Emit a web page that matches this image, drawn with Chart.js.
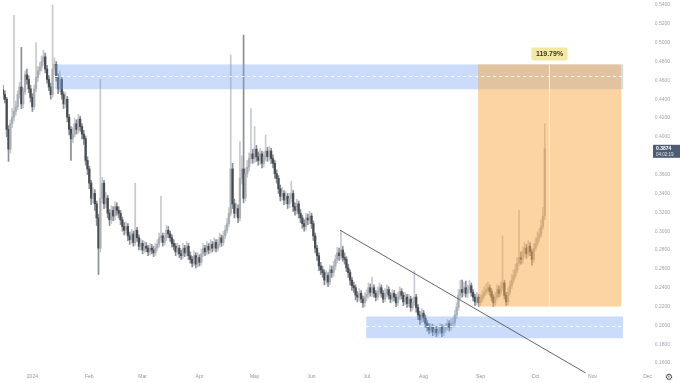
<!DOCTYPE html>
<html><head><meta charset="utf-8">
<script src="https://cdn.jsdelivr.net/npm/chart.js@4.4.1/dist/chart.umd.min.js"></script>
<style>html,body{margin:0;padding:0;background:#fff;overflow:hidden}</style>
</head><body>
<canvas id="c" width="680" height="383"></canvas>
<script>
// ---------- data ----------
const startDate = [2023, 11, 16];   // first candle (UTC y, m, d)
const totalDays = 368;              // days shown on the time axis
const monthNames = ['2024','Feb','Mar','Apr','May','Jun','Jul','Aug','Sep','Oct','Nov','Dec'];
const firstOpen = 0.450;
const closes = [0.445,0.440,0.408,0.387,0.414,0.421,0.427,0.432,0.445,0.453,
0.435,0.448,0.466,0.461,0.451,0.442,0.432,0.451,0.463,0.470,
0.474,0.480,0.485,0.472,0.461,0.453,0.445,0.472,0.477,0.463,
0.451,0.461,0.445,0.435,0.440,0.421,0.408,0.398,0.403,0.414,
0.408,0.419,0.411,0.403,0.398,0.375,0.366,0.351,0.335,0.340,
0.329,0.314,0.282,0.335,0.351,0.329,0.335,0.319,0.312,0.322,
0.316,0.326,0.322,0.319,0.312,0.305,0.301,0.305,0.295,0.291,
0.297,0.288,0.301,0.293,0.284,0.287,0.280,0.284,0.282,0.278,
0.282,0.280,0.277,0.282,0.286,0.293,0.295,0.288,0.293,0.301,
0.297,0.293,0.287,0.284,0.278,0.282,0.276,0.274,0.282,0.277,
0.284,0.274,0.270,0.266,0.274,0.265,0.272,0.267,0.276,0.282,
0.278,0.284,0.280,0.286,0.282,0.288,0.282,0.286,0.293,0.288,
0.295,0.301,0.308,0.319,0.366,0.329,0.319,0.324,0.314,0.356,
0.366,0.335,0.361,0.368,0.377,0.382,0.377,0.387,0.379,0.375,
0.382,0.372,0.379,0.385,0.379,0.385,0.377,0.372,0.361,0.356,
0.345,0.337,0.340,0.333,0.337,0.329,0.335,0.340,0.326,0.322,
0.329,0.319,0.314,0.308,0.305,0.314,0.312,0.316,0.308,0.295,
0.282,0.274,0.263,0.259,0.256,0.248,0.253,0.246,0.259,0.256,
0.263,0.270,0.277,0.274,0.280,0.272,0.270,0.261,0.256,0.248,
0.242,0.240,0.232,0.230,0.234,0.228,0.224,0.230,0.233,0.240,
0.235,0.240,0.234,0.230,0.236,0.240,0.234,0.228,0.234,0.238,
0.232,0.228,0.234,0.230,0.224,0.230,0.236,0.232,0.225,0.230,
0.223,0.228,0.219,0.224,0.230,0.219,0.211,0.206,0.213,0.208,
0.202,0.198,0.195,0.198,0.193,0.196,0.192,0.194,0.198,0.192,
0.196,0.198,0.202,0.198,0.202,0.203,0.211,0.219,0.232,0.238,
0.235,0.240,0.234,0.238,0.242,0.235,0.230,0.225,0.230,0.224,
0.228,0.232,0.235,0.238,0.240,0.236,0.230,0.224,0.230,0.238,
0.234,0.240,0.245,0.232,0.225,0.235,0.242,0.248,0.253,0.259,
0.266,0.272,0.270,0.277,0.282,0.276,0.284,0.278,0.270,0.282,
0.287,0.293,0.297,0.305,0.316,0.3874];
const highs = [0.455,0.449,0.442,0.412,0.418,0.430,0.529,0.438,0.449,0.458,
0.495,0.452,0.470,0.472,0.465,0.455,0.446,0.455,0.500,0.475,
0.479,0.486,0.492,0.489,0.476,0.465,0.457,0.540,0.484,0.480,
0.467,0.470,0.464,0.448,0.447,0.443,0.424,0.411,0.410,0.420,
0.418,0.424,0.422,0.414,0.407,0.401,0.379,0.369,0.354,0.346,
0.344,0.332,0.318,0.461,0.357,0.354,0.341,0.338,0.323,0.327,
0.326,0.331,0.330,0.326,0.322,0.315,0.309,0.310,0.308,0.299,
0.302,0.300,0.351,0.304,0.296,0.292,0.290,0.289,0.288,0.285,
0.287,0.286,0.284,0.287,0.291,0.298,0.337,0.298,0.298,0.306,
0.305,0.300,0.296,0.291,0.287,0.287,0.285,0.280,0.287,0.285,
0.289,0.287,0.278,0.273,0.279,0.277,0.277,0.275,0.281,0.287,
0.285,0.289,0.287,0.291,0.289,0.293,0.291,0.291,0.298,0.296,
0.300,0.306,0.314,0.325,0.487,0.372,0.334,0.330,0.328,0.395,
0.380,0.508,0.367,0.375,0.383,0.430,0.387,0.411,0.391,0.384,
0.388,0.385,0.384,0.402,0.389,0.390,0.388,0.381,0.375,0.365,
0.359,0.349,0.346,0.343,0.342,0.340,0.340,0.353,0.343,0.330,
0.334,0.332,0.323,0.317,0.312,0.319,0.318,0.321,0.319,0.311,
0.298,0.285,0.277,0.267,0.263,0.259,0.258,0.256,0.264,0.263,
0.268,0.275,0.283,0.282,0.301,0.284,0.277,0.273,0.265,0.259,
0.251,0.246,0.243,0.236,0.239,0.237,0.231,0.235,0.238,0.245,
0.244,0.251,0.243,0.237,0.241,0.245,0.243,0.237,0.239,0.243,
0.241,0.235,0.238,0.237,0.233,0.235,0.241,0.239,0.235,0.235,
0.233,0.233,0.231,0.229,0.258,0.233,0.222,0.215,0.218,0.216,
0.211,0.205,0.202,0.202,0.201,0.200,0.199,0.198,0.202,0.201,
0.200,0.202,0.206,0.205,0.207,0.208,0.216,0.224,0.238,0.248,
0.248,0.246,0.247,0.243,0.248,0.245,0.238,0.233,0.235,0.233,
0.233,0.237,0.241,0.244,0.246,0.243,0.239,0.233,0.235,0.243,
0.242,0.246,0.295,0.248,0.235,0.240,0.247,0.254,0.259,0.265,
0.272,0.322,0.278,0.283,0.288,0.286,0.290,0.288,0.281,0.287,
0.293,0.299,0.303,0.312,0.325,0.414];
const lows = [0.440,0.436,0.400,0.374,0.383,0.410,0.417,0.423,0.429,0.441,
0.430,0.431,0.445,0.456,0.447,0.437,0.427,0.429,0.448,0.459,
0.466,0.470,0.476,0.468,0.457,0.449,0.440,0.442,0.466,0.459,
0.446,0.448,0.440,0.430,0.431,0.416,0.402,0.375,0.394,0.400,
0.403,0.404,0.406,0.398,0.392,0.370,0.360,0.345,0.328,0.330,
0.322,0.306,0.254,0.278,0.330,0.324,0.325,0.314,0.306,0.308,
0.311,0.312,0.317,0.314,0.307,0.300,0.296,0.297,0.290,0.286,
0.287,0.284,0.285,0.289,0.280,0.280,0.276,0.277,0.278,0.274,
0.275,0.276,0.273,0.274,0.279,0.283,0.289,0.284,0.285,0.290,
0.293,0.289,0.283,0.280,0.274,0.275,0.272,0.270,0.271,0.273,
0.274,0.270,0.266,0.262,0.263,0.261,0.262,0.263,0.264,0.273,
0.274,0.275,0.276,0.277,0.278,0.279,0.278,0.279,0.283,0.284,
0.285,0.292,0.298,0.305,0.316,0.324,0.314,0.315,0.309,0.311,
0.350,0.330,0.332,0.357,0.364,0.372,0.372,0.373,0.374,0.370,
0.371,0.367,0.368,0.375,0.374,0.375,0.372,0.367,0.356,0.351,
0.340,0.332,0.333,0.328,0.329,0.324,0.325,0.331,0.321,0.317,
0.318,0.314,0.309,0.303,0.300,0.301,0.307,0.308,0.303,0.290,
0.277,0.269,0.258,0.254,0.251,0.243,0.244,0.241,0.243,0.251,
0.252,0.259,0.266,0.269,0.270,0.268,0.265,0.257,0.251,0.243,
0.237,0.235,0.227,0.225,0.226,0.224,0.219,0.220,0.226,0.229,
0.231,0.231,0.230,0.226,0.227,0.232,0.230,0.224,0.225,0.230,
0.228,0.224,0.225,0.226,0.220,0.221,0.227,0.228,0.221,0.222,
0.219,0.220,0.215,0.216,0.221,0.214,0.206,0.201,0.203,0.204,
0.198,0.194,0.191,0.192,0.189,0.190,0.188,0.189,0.191,0.188,
0.189,0.193,0.195,0.194,0.195,0.198,0.200,0.207,0.216,0.228,
0.230,0.231,0.230,0.230,0.234,0.231,0.226,0.221,0.222,0.220,
0.221,0.225,0.229,0.232,0.234,0.232,0.226,0.220,0.221,0.227,
0.230,0.231,0.237,0.228,0.221,0.222,0.232,0.239,0.245,0.250,
0.256,0.263,0.265,0.266,0.273,0.271,0.273,0.274,0.264,0.267,
0.279,0.284,0.289,0.294,0.302,0.312];

const yTickStep = 0.02;
const yTop = 0.5453, pricePerPx = 1/950;
// drawings (day index, price)
const upperZone = {from: 28.4, to: 337.6, top: 0.4769, bottom: 0.4506, mid: 0.4642};
const lowerZone = {from: 197.8, to: 337.6, top: 0.2095, bottom: 0.1864, mid: 0.1990};
const targetBox = {from: 258.7, to: 336.5, top: 0.4769, bottom: 0.2200, marker: 297.2};
const gainLabel = '119.79%';
const trendLine = {x1: 183.5, y1: 0.3011, x2: 317.3, y2: 0.1495};
const countdown = '04:02:19';

// ---------- build ----------
const labels = [];
for (let i = 0; i < totalDays; i++) {
  const d = new Date(Date.UTC(startDate[0], startDate[1], startDate[2] + i));
  labels.push(d.toISOString().slice(0,10));
}
const opens = closes.map((c, i) => i === 0 ? firstOpen : closes[i-1]);
const bodies = closes.map((c, i) => [opens[i], c]);
const wicks = lows.map((l, i) => [l, highs[i]]);
const isUp = i => closes[i] >= opens[i];

const FONT = '"Liberation Sans", Arial, sans-serif';

const overlay = {
  id: 'overlay',
  afterDatasetsDraw(chart) {
    const {ctx, scales: {x, y}} = chart;
    const X = v => x.getPixelForValue(v);
    const Y = v => y.getPixelForValue(v);
    ctx.save();
    const rect = (z, col) => { ctx.fillStyle = col; ctx.fillRect(X(z.from), Y(z.top), X(z.to) - X(z.from), Y(z.bottom) - Y(z.top)); };
    const blue = 'rgba(116,164,240,0.38)';
    rect(upperZone, blue);
    rect(lowerZone, blue);
    rect(targetBox, 'rgba(250,170,70,0.5)');
    // dashed mid lines
    ctx.strokeStyle = 'rgba(255,255,255,0.95)';
    ctx.lineWidth = 1;
    ctx.setLineDash([3, 3]);
    [upperZone, lowerZone].forEach(z => {
      const yy = Math.round(Y(z.mid)) + 0.5;
      ctx.beginPath(); ctx.moveTo(X(z.from), yy); ctx.lineTo(X(z.to), yy); ctx.stroke();
    });
    ctx.setLineDash([]);
    // marker line inside target box
    ctx.strokeStyle = 'rgba(255,255,255,0.85)';
    const mx = Math.round(X(targetBox.marker)) + 0.5;
    ctx.beginPath(); ctx.moveTo(mx, Y(targetBox.top)); ctx.lineTo(mx, Y(targetBox.bottom)); ctx.stroke();
    // trend line
    ctx.strokeStyle = '#50545c';
    ctx.lineWidth = 0.9;
    ctx.beginPath(); ctx.moveTo(X(trendLine.x1), Y(trendLine.y1)); ctx.lineTo(X(trendLine.x2), Y(trendLine.y2)); ctx.stroke();
    // gain label
    ctx.font = 'bold 7px ' + FONT;
    const tw = ctx.measureText(gainLabel).width;
    const lw = tw + 9, lh = 13, ly = Y(targetBox.top) - 17;
    ctx.fillStyle = '#f3e8a3';
    ctx.beginPath();
    if (ctx.roundRect) ctx.roundRect(mx - lw/2, ly, lw, lh, 2); else ctx.rect(mx - lw/2, ly, lw, lh);
    ctx.fill();
    ctx.fillStyle = '#3a3628';
    ctx.textAlign = 'center'; ctx.textBaseline = 'middle';
    ctx.fillText(gainLabel, mx, ly + lh/2 + 0.5);
    // last price tag
    const last = closes[closes.length - 1];
    const py = Y(last);
    ctx.fillStyle = '#4f5d72';
    ctx.fillRect(653, py - 4, 27, 13);
    ctx.fillStyle = '#ffffff';
    ctx.textAlign = 'left';
    ctx.font = 'bold 5px ' + FONT;
    ctx.fillText(last.toFixed(4), 656, py);
    ctx.font = '4.5px ' + FONT;
    ctx.fillStyle = '#dfe4ec';
    ctx.fillText(countdown, 656, py + 5.5);
    // settings icon
    ctx.font = '9px "DejaVu Sans", sans-serif';
    ctx.fillStyle = '#4a4d55';
    ctx.textAlign = 'center';
    ctx.fillText('\u2699', 669, 378);
    ctx.restore();
  }
};

new Chart(document.getElementById('c'), {
  type: 'bar',
  data: {
    labels,
    datasets: [
      { label: 'wick', data: wicks, grouped: false, barThickness: 1, borderWidth: 0, borderSkipped: false,
        backgroundColor: c => isUp(c.dataIndex) ? '#c6c9ce' : '#8a8e95', order: 2 },
      { label: 'body', data: bodies, grouped: false, barThickness: 1.6, borderWidth: 0, borderSkipped: false,
        backgroundColor: c => isUp(c.dataIndex) ? '#a9adb4' : '#474b52', order: 1 }
    ]
  },
  options: {
    responsive: false, animation: false, devicePixelRatio: 1,
    layout: { padding: 0 },
    plugins: { legend: { display: false }, tooltip: { enabled: false } },
    scales: {
      x: {
        type: 'category', offset: false,
        grid: { display: false, drawTicks: false }, border: { display: false },
        ticks: {
          autoSkip: false, maxRotation: 0, minRotation: 0, padding: 3,
          color: '#9094a0', font: { size: 5, family: FONT },
          callback: function(v, i) {
            const s = labels[i];
            if (s && s.slice(8) === '01' && s.slice(0,4) === '2024') return monthNames[parseInt(s.slice(5,7),10) - 1];
            return '';
          }
        }
      },
      y: {
        position: 'right',
        min: yTop - 374 * pricePerPx, max: yTop,
        grid: { display: false, drawTicks: false }, border: { display: false },
        ticks: {
          stepSize: yTickStep, includeBounds: false, mirror: true, padding: -7,
          color: '#a0a4ab', font: { size: 5, family: FONT },
          callback: v => v.toFixed(4)
        }
      }
    }
  },
  plugins: [overlay]
});
</script>
</body></html>
